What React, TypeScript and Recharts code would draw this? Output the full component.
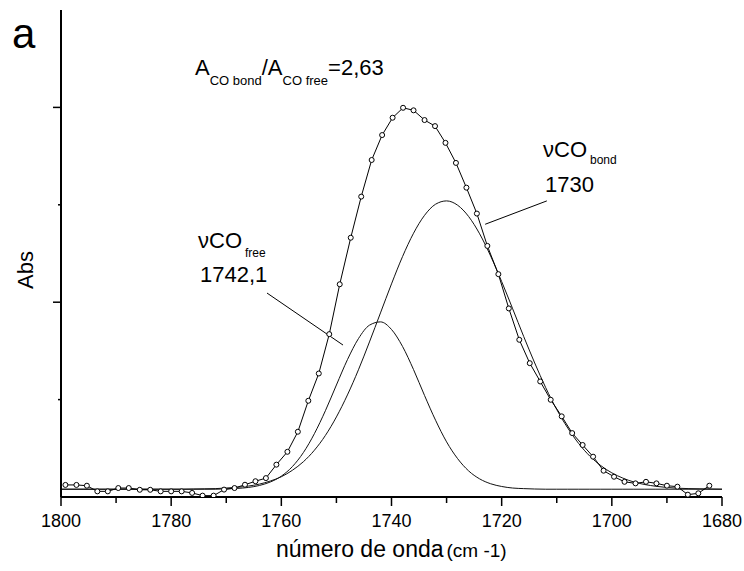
import { ComposedChart, Line, XAxis, YAxis, ReferenceLine, Customized } from 'recharts';

// observed spectrum (circles)
const wavenumbers = [
  1799.2, 1797.2, 1795.3, 1793.4, 1791.5, 1789.6, 1787.7, 1785.7, 1783.8, 1781.9,
  1780.0, 1778.1, 1776.2, 1774.3, 1772.3, 1770.4, 1768.5, 1766.6, 1764.7, 1762.8,
  1760.9, 1758.9, 1757.0, 1755.1, 1753.2, 1751.3, 1749.4, 1747.4, 1745.5, 1743.6,
  1741.7, 1739.8, 1737.9, 1736.0, 1734.0, 1732.1, 1730.2, 1728.3, 1726.4, 1724.5,
  1722.6, 1720.6, 1718.7, 1716.8, 1714.9, 1713.0, 1711.1, 1709.1, 1707.2, 1705.3,
  1703.4, 1701.5, 1699.6, 1697.7, 1695.7, 1693.8, 1691.9, 1690.0, 1688.1, 1686.2,
  1684.3, 1682.3,
];
const absObserved = [
  0.062, 0.062, 0.058, 0.029, 0.029, 0.046, 0.046, 0.037, 0.037, 0.029,
  0.029, 0.029, 0.021, 0.007, 0.007, 0.038, 0.046, 0.063, 0.081, 0.097,
  0.166, 0.232, 0.335, 0.494, 0.634, 0.836, 1.092, 1.331, 1.542, 1.730,
  1.858, 1.947, 1.998, 1.985, 1.935, 1.904, 1.818, 1.715, 1.588, 1.455,
  1.289, 1.144, 0.968, 0.807, 0.687, 0.593, 0.499, 0.414, 0.328, 0.267,
  0.207, 0.135, 0.104, 0.078, 0.070, 0.078, 0.070, 0.058, 0.053, 0.012,
  0.019, 0.058,
];

// fitted components
const fitX = [
  1800, 1798, 1796, 1794, 1792, 1790, 1788, 1786, 1784, 1782, 1780, 1778, 1776, 1774, 1772,
  1770, 1768, 1766, 1764, 1762, 1760, 1758, 1756, 1754, 1752, 1750, 1748, 1746, 1744, 1742,
  1740, 1738, 1736, 1734, 1732, 1730, 1728, 1726, 1724, 1722, 1720, 1718, 1716, 1714, 1712,
  1710, 1708, 1706, 1704, 1702, 1700, 1698, 1696, 1694, 1692, 1690, 1688, 1686, 1684, 1682,
  1680,
];
const fitFree = [
  0.04, 0.04, 0.04, 0.04, 0.04, 0.04, 0.04, 0.04, 0.04, 0.04, 0.04, 0.04, 0.04, 0.04, 0.04,
  0.042, 0.044, 0.049, 0.059, 0.077, 0.107, 0.156, 0.228, 0.325, 0.443, 0.575, 0.705, 0.813, 0.882, 0.899,
  0.860, 0.773, 0.654, 0.521, 0.394, 0.283, 0.197, 0.134, 0.093, 0.068, 0.054, 0.046, 0.043, 0.041, 0.04,
  0.04, 0.04, 0.04, 0.04, 0.04, 0.04, 0.04, 0.04, 0.04, 0.04, 0.04, 0.04, 0.04, 0.04, 0.04,
  0.04,
];
const fitBond = [
  0.04, 0.04, 0.04, 0.04, 0.04, 0.04, 0.04, 0.04, 0.04, 0.04, 0.04, 0.04, 0.041, 0.042, 0.043,
  0.046, 0.050, 0.056, 0.066, 0.082, 0.104, 0.137, 0.181, 0.240, 0.316, 0.411, 0.524, 0.653, 0.796, 0.945,
  1.094, 1.234, 1.354, 1.446, 1.503, 1.520, 1.498, 1.440, 1.351, 1.237, 1.106, 0.966, 0.824, 0.688, 0.561,
  0.449, 0.354, 0.274, 0.210, 0.161, 0.124, 0.097, 0.077, 0.064, 0.055, 0.049, 0.045, 0.043, 0.042, 0.041,
  0.040,
];

const xTicks = [1800, 1790, 1780, 1770, 1760, 1750, 1740, 1730, 1720, 1710, 1700, 1690, 1680];
const yTicks = [0.5, 1, 1.5, 2];

const observed = wavenumbers.map((x, i) => ({ x, abs: absObserved[i] }));
const freeBand = fitX.map((x, i) => ({ x, abs: fitFree[i] }));
const bondBand = fitX.map((x, i) => ({ x, abs: fitBond[i] }));

const FONT = '"Liberation Sans", Arial, sans-serif';

function XTick(props: any) {
  const { x, y, payload } = props;
  const major = payload.value % 20 === 0;
  return (
    <g>
      <line x1={x} y1={y} x2={x} y2={y + (major ? 9 : 6)} stroke="#000" strokeWidth={1.5} />
      {major && (
        <text x={x} y={y + 30} textAnchor="middle" fontSize={18} fill="#000" fontFamily={FONT}>
          {payload.value}
        </text>
      )}
    </g>
  );
}

function YTick(props: any) {
  const { x, y, payload } = props;
  const major = Number.isInteger(payload.value);
  return <line x1={x} y1={y} x2={x - (major ? 8 : 3)} y2={y} stroke="#000" strokeWidth={1.5} />;
}

function Annotations() {
  return (
    <g fontFamily={FONT} fill="#000">
      <text x={12} y={48} fontSize={42}>a</text>
      <text x={195} y={75} fontSize={22}>
        A<tspan fontSize={13} dy={10}>CO bond</tspan>
        <tspan dy={-10}>/A</tspan>
        <tspan fontSize={13} dy={10}>CO free</tspan>
        <tspan dy={-10}>=2,63</tspan>
      </text>
      <text x={198} y={248} fontSize={22}>
        νCO<tspan fontSize={12} dx={3} dy={9}>free</tspan>
      </text>
      <text x={200} y={282} fontSize={22}>1742,1</text>
      <text x={543} y={157} fontSize={22}>
        νCO<tspan fontSize={12} dx={3} dy={7}>bond</tspan>
      </text>
      <text x={545} y={192} fontSize={22}>1730</text>
      <text transform="translate(33,270) rotate(-90)" textAnchor="middle" fontSize={22}>Abs</text>
      <text x={276} y={557} fontSize={23}>
        número de onda<tspan fontSize={19} dx={3}>(cm -1)</tspan>
      </text>
    </g>
  );
}

export default function App() {
  return (
    <div style={{ position: 'absolute', left: 0, top: 0, background: '#fff' }}>
      <ComposedChart width={744} height={571} margin={{ top: 10, right: 22, bottom: 0, left: 0 }}>
        <XAxis
          type="number"
          dataKey="x"
          domain={[1680, 1800]}
          reversed
          allowDataOverflow
          ticks={xTicks}
          interval={0}
          tickSize={0}
          tickMargin={0}
          tickLine={false}
          tick={(p: any) => <XTick {...p} />}
          axisLine={{ stroke: '#000', strokeWidth: 2 }}
          height={74}
        />
        <YAxis
          type="number"
          domain={[0, 2.5]}
          allowDataOverflow
          ticks={yTicks}
          interval={0}
          tickSize={0}
          tickMargin={0}
          tickLine={false}
          tick={(p: any) => <YTick {...p} />}
          axisLine={{ stroke: '#000', strokeWidth: 2 }}
          width={61}
        />
        <ReferenceLine segment={[{ x: 1762.6, y: 1.047 }, { x: 1748.8, y: 0.78 }]} stroke="#000" strokeWidth={1} />
        <ReferenceLine segment={[{ x: 1711.8, y: 1.52 }, { x: 1723.0, y: 1.4 }]} stroke="#000" strokeWidth={1} />
        <Line data={freeBand} dataKey="abs" type="monotone" stroke="#111" strokeWidth={1} dot={false} isAnimationActive={false} />
        <Line data={bondBand} dataKey="abs" type="monotone" stroke="#111" strokeWidth={1} dot={false} isAnimationActive={false} />
        <Line
          data={observed}
          dataKey="abs"
          type="linear"
          stroke="#000"
          strokeWidth={1}
          dot={{ r: 2.5, fill: '#fff', stroke: '#000', strokeWidth: 1 }}
          isAnimationActive={false}
        />
        <Customized component={Annotations} />
      </ComposedChart>
    </div>
  );
}
